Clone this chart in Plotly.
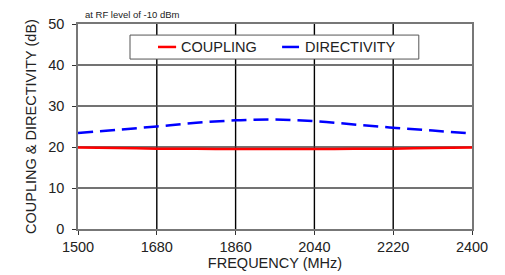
import plotly.graph_objects as go

freq = [1500, 1590, 1680, 1770, 1860, 1950, 2040, 2130, 2220, 2310, 2400]
coupling = [19.9, 19.75, 19.6, 19.55, 19.5, 19.5, 19.5, 19.55, 19.6, 19.75, 19.9]
directivity = [23.4, 24.2, 25.0, 25.9, 26.5, 26.7, 26.3, 25.5, 24.7, 24.0, 23.3]
x_ticks = [1500, 1680, 1860, 2040, 2220, 2400]
y_ticks = [0, 10, 20, 30, 40, 50]
series_names = ["COUPLING", "DIRECTIVITY"]
series_colors = ["#ff0000", "#0000ff"]

font = "Liberation Sans, Arial, sans-serif"
fs = 14.5

fig = go.Figure()

# grid lines drawn as shapes at the tick values
shapes = []
for xv in x_ticks[1:-1]:
    shapes.append(dict(type="line", xref="x", yref="paper", x0=xv, x1=xv, y0=0, y1=1,
                       line=dict(color="#000000", width=1.4), layer="below"))
for yv in y_ticks[1:-1]:
    shapes.append(dict(type="line", xref="paper", yref="y", x0=0, x1=1, y0=yv, y1=yv,
                       line=dict(color="#444", width=1.4), layer="below"))

fig.add_trace(go.Scatter(x=freq, y=coupling, mode="lines", name=series_names[0],
                         line=dict(color=series_colors[0], width=2.5, shape="spline")))
fig.add_trace(go.Scatter(x=freq, y=directivity, mode="lines", name=series_names[1],
                         line=dict(color=series_colors[1], width=2.5, dash="15px,7px", shape="spline")))

# custom legend (compact line samples like the reference)
shapes += [
    dict(type="rect", xref="paper", yref="paper", x0=0.132, x1=0.865, y0=0.829, y1=0.946,
         line=dict(color="#555", width=1), fillcolor="white", layer="above"),
    dict(type="line", xref="paper", yref="paper", x0=0.203, x1=0.249, y0=0.888, y1=0.888,
         line=dict(color=series_colors[0], width=2.5), layer="above"),
    dict(type="line", xref="paper", yref="paper", x0=0.518, x1=0.561, y0=0.888, y1=0.888,
         line=dict(color=series_colors[1], width=2.5), layer="above"),
]
annotations = [
    dict(text="at RF level of -10 dBm", xref="paper", yref="paper",
         x=0.012, y=1.01, xanchor="left", yanchor="bottom", showarrow=False,
         font=dict(size=9.5, family=font, color="#222")),
    dict(text=series_names[0], xref="paper", yref="paper", x=0.256, y=0.888,
         xanchor="left", yanchor="middle", showarrow=False,
         font=dict(size=fs, family=font, color="#222")),
    dict(text=series_names[1], xref="paper", yref="paper", x=0.571, y=0.888,
         xanchor="left", yanchor="middle", showarrow=False,
         font=dict(size=fs, family=font, color="#222")),
]

# page body has an 8px margin, so the figure is sized/offset to compensate
fig.update_layout(
    template="none",
    width=497, height=267,
    margin=dict(l=70, r=33, t=16, b=46, autoexpand=False),
    paper_bgcolor="white", plot_bgcolor="white",
    font=dict(family=font, size=fs, color="#222"),
    showlegend=False,
    xaxis=dict(range=[1500, 2400], tickvals=x_ticks, ticks="outside", ticklen=4,
               tickcolor="#333", showgrid=False, automargin=False,
               showline=True, linecolor="#777", linewidth=1.5, mirror=True, zeroline=False,
               ticklabelstandoff=0, tickfont=dict(size=fs),
               title=dict(text="FREQUENCY (MHz)", standoff=2, font=dict(size=fs))),
    yaxis=dict(range=[0, 50], tickvals=y_ticks, ticks="outside", ticklen=4,
               tickcolor="#333", showgrid=False, automargin=False,
               showline=True, linecolor="#777", linewidth=1.5, mirror=True, zeroline=False,
               ticklabelstandoff=5, tickfont=dict(size=fs),
               title=dict(text="COUPLING & DIRECTIVITY (dB)", standoff=8, font=dict(size=fs))),
    shapes=shapes,
    annotations=annotations,
)
fig.write_html("out.html")
